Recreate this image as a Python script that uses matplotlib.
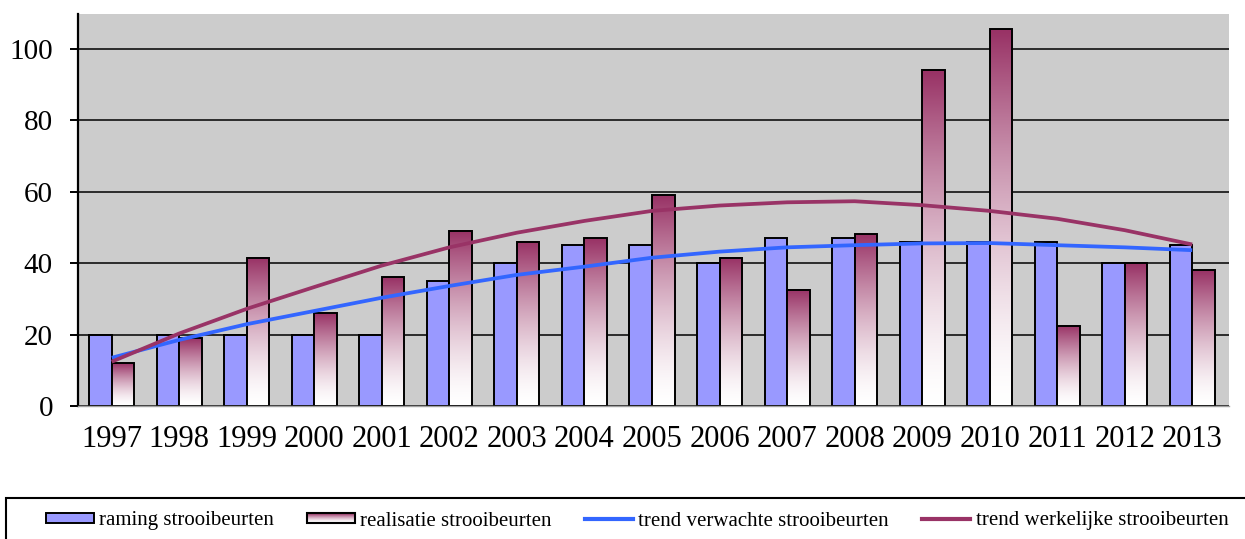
import numpy as np
import matplotlib.pyplot as plt
from matplotlib.patches import Rectangle
from matplotlib.lines import Line2D
from matplotlib.legend_handler import HandlerBase

#%%
# Data
years = ['1997', '1998', '1999', '2000', '2001', '2002', '2003', '2004', '2005',
         '2006', '2007', '2008', '2009', '2010', '2011', '2012', '2013']
raming = [20, 20, 20, 20, 20, 35, 40, 45, 45, 40, 47, 47, 46, 46, 46, 40, 45]
realisatie = [12, 19, 41.5, 26, 36, 49, 46, 47, 59, 41.5, 32.5, 48, 94, 105.5, 22.5, 40, 38]
trend_verwacht = [13.5, 18.5, 22.9, 26.6, 30.3, 33.6, 36.7, 39.0, 41.5, 43.2, 44.4,
                  45.0, 45.5, 45.6, 45.0, 44.4, 43.6]
trend_werkelijk = [12.4, 20.3, 27.2, 33.3, 39.3, 44.4, 48.5, 51.8, 54.6, 56.1, 57.0,
                   57.3, 56.2, 54.6, 52.4, 49.2, 45.2]

labels = ['raming strooibeurten', 'realisatie strooibeurten',
          'trend verwachte strooibeurten', 'trend werkelijke strooibeurten']

#%%
plum = np.array([0x99, 0x33, 0x66]) / 255.0
blue_bar = '#9999FF'
blue_line = '#3366FF'

plt.rcParams['font.family'] = ['Liberation Serif', 'DejaVu Serif']


def plum_gradient(n=64):
    t = np.linspace(0, 1, n)[:, None]          # 0 bottom .. 1 top
    mix = np.clip(t, 0, 1) ** 1.5
    rgb = 1 - mix * (1 - plum[None, :])
    return rgb[:, None, :]                      # shape (n, 1, 3)


class GradientHandler(HandlerBase):
    def create_artists(self, legend, orig_handle, xdescent, ydescent,
                       width, height, fontsize, trans):
        arts = []
        n = 10
        grad = plum_gradient(n)[::-1, 0, :]     # top row first
        for i in range(n):
            y = -ydescent + height * (1 - (i + 1) / n)
            r = Rectangle((-xdescent, y), width, height / n, facecolor=grad[i],
                          edgecolor='none', transform=trans)
            arts.append(r)
        border = Rectangle((-xdescent, -ydescent), width, height, facecolor='none',
                           edgecolor='black', linewidth=1.5, transform=trans)
        arts.append(border)
        return arts


#%%
fig = plt.figure(figsize=(12.45, 5.39), dpi=100)
ax = fig.add_axes([78 / 1245, 133 / 539, (1229 - 78) / 1245, (406 - 14) / 539])
ax.set_facecolor('#CCCCCC')

x = np.arange(len(years))
w = 1 / 3

ax.bar(x - w / 2, raming, width=w, color=blue_bar, edgecolor='black',
       linewidth=1.4, zorder=2)

grad = plum_gradient()
for xi, h in zip(x, realisatie):
    ax.imshow(grad, extent=[xi, xi + w, 0, h], aspect='auto', origin='lower',
              interpolation='bilinear', zorder=2)
ax.bar(x + w / 2, realisatie, width=w, facecolor='none', edgecolor='black',
       linewidth=1.4, zorder=2.5)

ax.plot(x, trend_verwacht, color=blue_line, linewidth=2.7, zorder=3,
        solid_capstyle='butt')
ax.plot(x, trend_werkelijk, color=tuple(plum), linewidth=2.7, zorder=3,
        solid_capstyle='butt')

ax.set_xlim(-0.5, len(years) - 0.5 + 3 / 67.5)
ax.set_ylim(0, 109.7)
ax.set_yticks([0, 20, 40, 60, 80, 100])
ax.set_xticks(x)
ax.set_xticklabels(years)
ax.yaxis.grid(True, color='black', linewidth=1.1)
ax.set_axisbelow(True)

ax.tick_params(axis='y', labelsize=21, length=6, width=1.4, pad=12, colors='black')
ax.tick_params(axis='x', labelsize=22, length=0, pad=14)
ax.spines['top'].set_visible(False)
ax.spines['right'].set_visible(False)
ax.spines['left'].set_linewidth(1.6)
ax.spines['bottom'].set_color('#A0A0A0')
ax.spines['bottom'].set_linewidth(1.0)

#%%
# Legend with a box that runs off the bottom/right of the picture
box = Rectangle((6 / 1245, -0.2), 1.2, 0.2 + (539 - 498) / 539,
                transform=fig.transFigure, facecolor='white', edgecolor='black',
                linewidth=1.5, clip_on=False)
fig.patches.append(box)

h_raming = Rectangle((0, 0), 1, 1, facecolor=blue_bar, edgecolor='black', linewidth=1.4)
h_real = Rectangle((0, 0), 1, 1)
h_tv = Line2D([], [], color=blue_line, linewidth=3)
h_tw = Line2D([], [], color=tuple(plum), linewidth=3)

fig.legend([h_raming, h_real, h_tv, h_tw], labels, ncol=4, frameon=False,
           loc='center left', bbox_to_anchor=(46 / 1245, 1 - 521 / 539),
           fontsize=15.0, handlelength=2.3, handleheight=0.4, handletextpad=0.25,
           columnspacing=1.6, borderpad=0, borderaxespad=0,
           handler_map={h_real: GradientHandler()})

fig.savefig('out.png', dpi=100)
